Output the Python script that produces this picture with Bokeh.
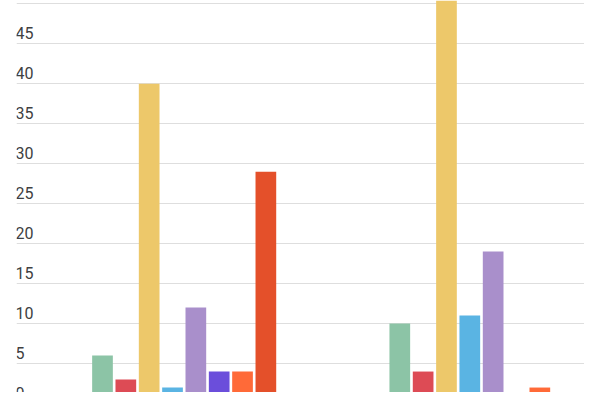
from bokeh.plotting import figure
from bokeh.models import Range1d, Grid, FixedTicker, ColumnDataSource
from bokeh.core.properties import value
from bokeh.embed import file_html
from bokeh.resources import INLINE

# ---- data ----
groups = ["Group A", "Group B"]
series_names = ["S1", "S2", "S3", "S4", "S5", "S6", "S7", "S8"]
series_colors = ["#8CC4A6", "#DD4B55", "#EDC86A", "#5AB4E3",
                 "#A98FCB", "#6B4EDB", "#FF6A38", "#E4502A"]
values_group_a = [6, 3, 40, 2, 12, 4, 4, 29]
values_group_b = [10, 4, 55, 11, 19, 0, 2, 0]
grid_ticks = [0, 5, 10, 15, 20, 25, 30, 35, 40, 45, 50]
label_ticks = [0, 5, 10, 15, 20, 25, 30, 35, 40, 45]
label_texts = [str(t) for t in label_ticks]

x_start, x_end = -0.564, 1.3465
p = figure(width=584, height=392, output_backend="svg", toolbar_location=None,
           x_axis_location=None, y_axis_location=None,
           x_range=Range1d(x_start, x_end), y_range=Range1d(1.38, 50.40),
           min_border_left=16, min_border_right=0, min_border_top=0, min_border_bottom=0)
p.outline_line_color = None
p.background_fill_color = "white"
p.border_fill_color = "white"
p.grid.visible = False

grid = Grid(dimension=1, ticker=FixedTicker(ticks=grid_ticks),
            grid_line_color="#dedede", grid_line_width=1)
p.add_layout(grid)

step = 0.0785
bar_w = 0.0696
n = len(series_names)
all_vals = [values_group_a, values_group_b]
for i, (name, color) in enumerate(zip(series_names, series_colors)):
    xs = [g + (i - (n - 1) / 2) * step for g in range(len(groups))]
    tops = [vals[i] for vals in all_vals]
    src = ColumnDataSource(dict(x=xs, top=tops))
    p.vbar(x="x", top="top", bottom=0, width=bar_w, source=src,
           fill_color=color, line_color=None)

lab_src = ColumnDataSource(dict(x=[x_start] * len(label_ticks), y=label_ticks, t=label_texts))
p.text(x="x", y="y", text="t", source=lab_src, text_font=value("Roboto"),
       text_font_size="16px", text_color="#404040", text_align="left",
       text_baseline="middle", x_offset=-1, y_offset=-11)

open("out.html", "w").write(file_html(p, INLINE))
